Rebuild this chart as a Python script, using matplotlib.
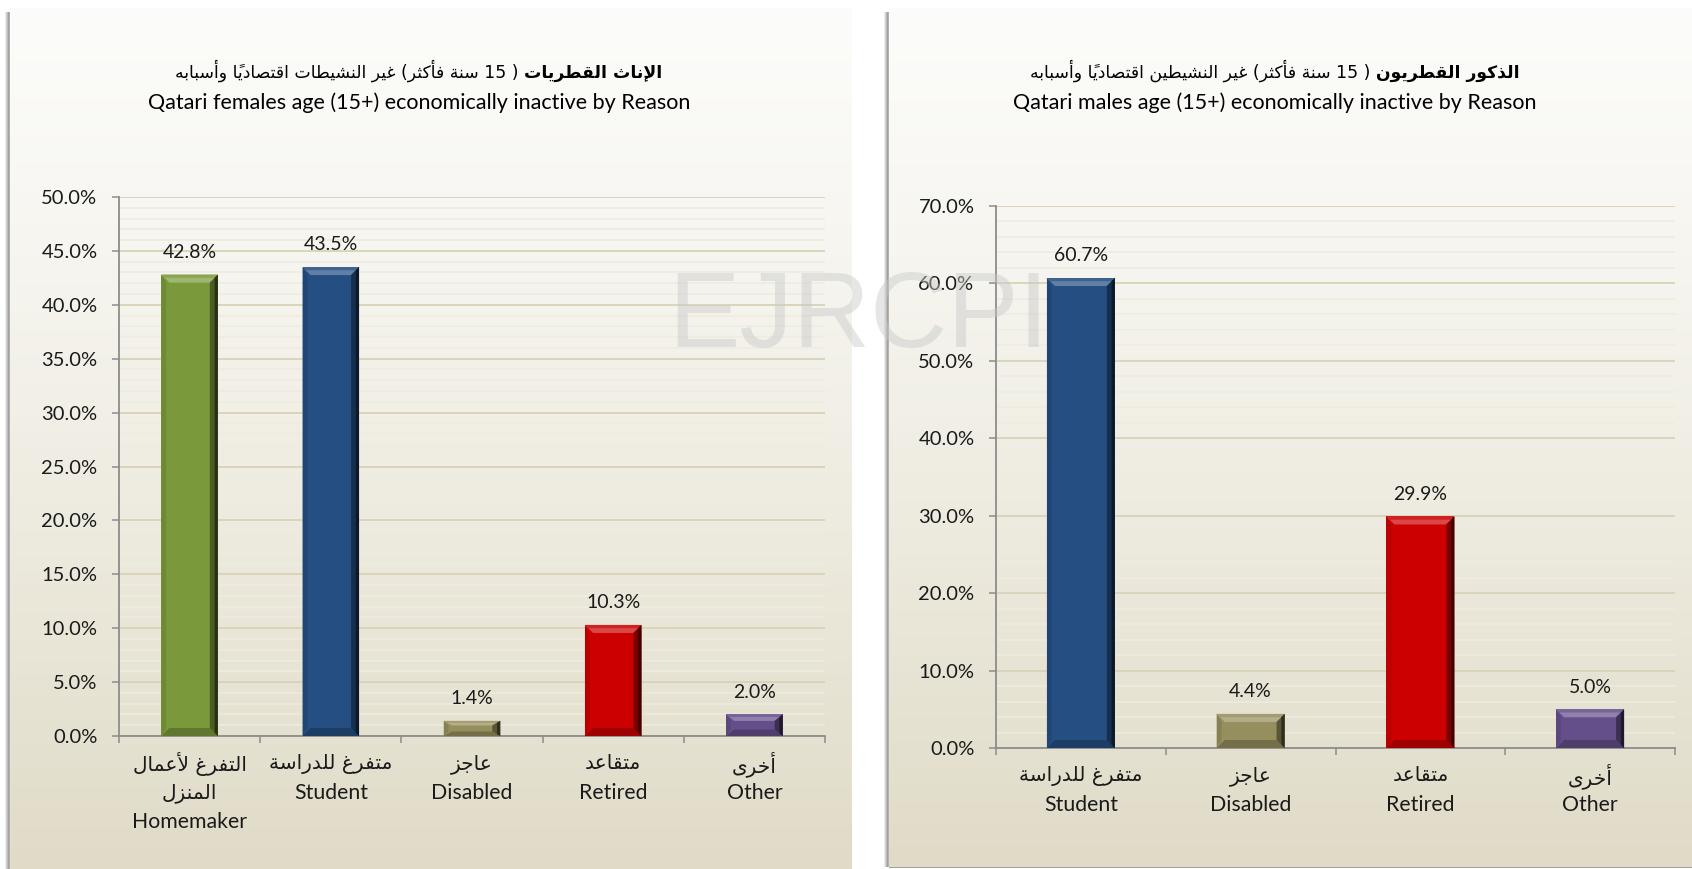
import numpy as np
import matplotlib
matplotlib.use('Agg')
import matplotlib.pyplot as plt
from matplotlib.patches import Polygon, Rectangle
from matplotlib.offsetbox import TextArea, HPacker, AnnotationBbox
import matplotlib.colors as mcolors

# ---------------- data ----------------
f_cats_ar = [["التفرغ لأعمال", "المنزل"], ["متفرغ للدراسة"], ["عاجز"], ["متقاعد"], ["أخرى"]]
f_cats_en = ["Homemaker", "Student", "Disabled", "Retired", "Other"]
f_values = [42.8, 43.5, 1.4, 10.3, 2.0]
f_ticks = [0, 5, 10, 15, 20, 25, 30, 35, 40, 45, 50]

m_cats_ar = [["متفرغ للدراسة"], ["عاجز"], ["متقاعد"], ["أخرى"]]
m_cats_en = ["Student", "Disabled", "Retired", "Other"]
m_values = [60.7, 4.4, 29.9, 5.0]
m_ticks = [0, 10, 20, 30, 40, 50, 60, 70]

f_title_bold = "الإناث القطريات"
f_title_rest = "( 15 سنة فأكثر) غير النشيطات اقتصادياً وأسبابه"
f_title_en = "Qatari females age (15+) economically inactive by Reason"
m_title_bold = "الذكور القطريون"
m_title_rest = "( 15 سنة فأكثر) غير النشيطين اقتصادياً وأسبابه"
m_title_en = "Qatari males age (15+) economically inactive by Reason"
watermark = "EJRCPI"

GREEN, BLUE, OLIVE, RED, PURPLE = '#7a993b', '#254e82', '#958e5d', '#cc0000', '#654f8a'
f_colors = [GREEN, BLUE, OLIVE, RED, PURPLE]
m_colors = [BLUE, OLIVE, RED, PURPLE]

# ---------------- simple Arabic shaping (presentation forms + RTL order) ----------------
_R = {'\u0622': 0xFE81, '\u0623': 0xFE83, '\u0625': 0xFE87, '\u0627': 0xFE8D, '\u0629': 0xFE93,
      '\u062F': 0xFEA9, '\u0630': 0xFEAB, '\u0631': 0xFEAD, '\u0632': 0xFEAF, '\u0648': 0xFEED,
      '\u0649': 0xFEEF}
_D = {'\u0628': 0xFE8F, '\u062A': 0xFE95, '\u062B': 0xFE99, '\u062C': 0xFE9D, '\u062D': 0xFEA1,
      '\u062E': 0xFEA5, '\u0633': 0xFEB1, '\u0634': 0xFEB5, '\u0635': 0xFEB9, '\u0636': 0xFEBD,
      '\u0637': 0xFEC1, '\u0638': 0xFEC5, '\u0639': 0xFEC9, '\u063A': 0xFECD, '\u0641': 0xFED1,
      '\u0642': 0xFED5, '\u0643': 0xFED9, '\u0644': 0xFEDD, '\u0645': 0xFEE1, '\u0646': 0xFEE5,
      '\u0647': 0xFEE9, '\u064A': 0xFEF1}
FORMS = {k: (v, v + 1) for k, v in _R.items()}
FORMS.update({k: (v, v + 1, v + 2, v + 3) for k, v in _D.items()})
LAM_ALEF = {'\u0622': (0xFEF5, 0xFEF6), '\u0623': (0xFEF7, 0xFEF8),
            '\u0625': (0xFEF9, 0xFEFA), '\u0627': (0xFEFB, 0xFEFC)}
MIRROR = {'(': ')', ')': '('}


def _is_mark(c):
    return '\u064B' <= c <= '\u0652'


def shape_word(w):
    if not any(c in FORMS for c in w):
        return ''.join(MIRROR.get(c, c) for c in w) if all(c in '()' for c in w) else w
    units = []
    i = 0
    while i < len(w):
        c = w[i]
        if _is_mark(c):
            if units:
                units[-1][1].append(c)
            i += 1
            continue
        if c == '\u0644' and i + 1 < len(w) and w[i + 1] in LAM_ALEF:
            units.append([('LA', w[i + 1]), []])
            i += 2
            continue
        units.append([c, []])
        i += 1
    out = []
    for j, (k, marks) in enumerate(units):
        prev = units[j - 1][0] if j > 0 else None
        nxt = units[j + 1][0] if j + 1 < len(units) else None
        prev_joins = (prev is not None and not isinstance(prev, tuple)
                      and prev in FORMS and len(FORMS[prev]) == 4)
        next_letter = nxt is not None and (isinstance(nxt, tuple) or nxt in FORMS)
        if isinstance(k, tuple):
            f = LAM_ALEF[k[1]]
            g = chr(f[1] if prev_joins else f[0])
        elif k in FORMS:
            f = FORMS[k]
            if len(f) == 4:
                if prev_joins and next_letter:
                    g = f[3]
                elif prev_joins:
                    g = f[1]
                elif next_letter:
                    g = f[2]
                else:
                    g = f[0]
            else:
                g = f[1] if prev_joins else f[0]
            g = chr(g)
        else:
            g = MIRROR.get(k, k)
        out.append(g + ''.join(marks))
    return ''.join(reversed(out))


def visual(line):
    toks = [shape_word(t) for t in line.split(' ')]
    return ' '.join(reversed(toks))


# ---------------- figure ----------------
W, H = 1692, 869
fig = plt.figure(figsize=(W / 100, H / 100), dpi=100, facecolor='white')
LAT = ['Lato', 'DejaVu Sans']
AR = ['DejaVu Sans']
TXT = '#1a1a1a'


def panel_bg(x0, y0, x1, y1):
    ax = fig.add_axes([x0 / W, 1 - y1 / H, (x1 - x0) / W, (y1 - y0) / H], zorder=-10)
    top = np.array([252, 252, 250]) / 255
    bot = np.array([224, 219, 199]) / 255
    t = np.linspace(0, 1, 400)[:, None]
    grad = top + (bot - top) * (t ** 1.25)
    ax.imshow(grad[:, None, :], aspect='auto', extent=(0, 1, 0, 1), interpolation='bilinear')
    ax.set_axis_off()
    # left shadow
    for k, a in enumerate([0.12, 0.25, 0.40, 0.55, 0.45]):
        fig.patches.append(Rectangle(((x0 - 5 + k) / W, 1 - y1 / H), 1 / W, (y1 - y0 - 4) / H,
                                     transform=fig.transFigure, color='#555555', alpha=a,
                                     lw=0, zorder=-9))


panel_bg(10, 8, 852, 870)
panel_bg(889, 8, 1692, 867)
fig.patches.append(Rectangle((889 / W, 1 - 868 / H), (W - 889) / W, 1.5 / H,
                             transform=fig.transFigure, color='#a0a0a0', lw=0, zorder=-8))


def mix(c, other, a):
    c = np.array(mcolors.to_rgb(c))
    o = np.array(mcolors.to_rgb(other))
    return tuple(c * (1 - a) + o * a)


def make_chart(rect, cats_ar, cats_en, values, colors, ticks, minor_step):
    ax = fig.add_axes(rect)
    ax.set_facecolor('none')
    x = np.arange(len(values))
    ax.set_xlim(-0.5, len(values) - 0.5)
    ax.set_ylim(ticks[0], ticks[-1])
    bars = ax.bar(x, values, width=0.40, color=colors, zorder=3, linewidth=0)
    # bevel
    p0 = ax.transData.transform((0, 0))
    p1 = ax.transData.transform((1, 1))
    sx, sy = p1[0] - p0[0], p1[1] - p0[1]
    for b, c in zip(bars, colors):
        x0, w, h = b.get_x(), b.get_width(), b.get_height()
        x1 = x0 + w
        bx = 8.0 / sx
        by = min(8.0 / sy, h * 0.3)
        polys = [
            ([(x0, h), (x1, h), (x1 - bx, h - by), (x0 + bx, h - by)], mix(c, 'white', 0.28)),
            ([(x0, h), (x1, h), (x1 - bx * 0.4, h - by * 0.4), (x0 + bx * 0.4, h - by * 0.4)], mix(c, 'white', 0.12)),
            ([(x0, 0), (x1, 0), (x1 - bx, by), (x0 + bx, by)], mix(c, 'black', 0.22)),
            ([(x0, 0), (x0, h), (x0 + bx * 0.6, h - by), (x0 + bx * 0.6, by)], mix(c, 'black', 0.10)),
            ([(x1, 0), (x1, h), (x1 - bx, h - by), (x1 - bx, by)], mix(c, 'black', 0.40)),
            ([(x1, 0), (x1, h), (x1 - bx * 0.4, h - by * 0.4), (x1 - bx * 0.4, by * 0.4)], mix(c, 'black', 0.68)),
        ]
        for pts, col in polys:
            ax.add_patch(Polygon(pts, closed=True, facecolor=col, edgecolor='none', zorder=4))
        ax.annotate(f"{b.get_height():.1f}%", (b.get_x() + w / 2, h), xytext=(0, 16),
                    textcoords='offset points', ha='center', va='center',
                    fontsize=14, family=LAT, color=TXT)
    # axes styling
    for s in ['top', 'right']:
        ax.spines[s].set_visible(False)
    for s in ['left', 'bottom']:
        ax.spines[s].set_color('#8c8c8c')
        ax.spines[s].set_linewidth(1.3)
    ax.set_yticks(ticks, [f"{t:.1f}%" for t in ticks], family=LAT, fontsize=14.5, color=TXT)
    ax.set_yticks(np.arange(ticks[0], ticks[-1] + 1e-9, minor_step), minor=True)
    ax.tick_params(axis='y', which='major', length=5, width=1.1, color='#8c8c8c', pad=10.5)
    ax.tick_params(axis='y', which='minor', length=0)
    ax.set_xticks(x, [''] * len(x))
    ax.set_xticks(np.arange(len(values) + 1) - 0.5, minor=True)
    ax.tick_params(axis='x', which='major', length=0)
    ax.tick_params(axis='x', which='minor', length=5, width=1.1, color='#8c8c8c')
    # category labels: Arabic lines then English line
    for xi, ar, en in zip(x, cats_ar, cats_en):
        lines = [(visual(a), AR, 14.5) for a in ar] + [(en, LAT, 15.3)]
        for k, (txt, fam, fs) in enumerate(lines):
            ax.annotate(txt, (xi, 0), xycoords=ax.get_xaxis_transform(),
                        xytext=(0, -(20.0 + 20.9 * k)), textcoords='offset points',
                        ha='center', va='center', family=fam, fontsize=fs, color=TXT)
    ax.yaxis.grid(True, which='minor', color='#eeebe0', lw=1.1, zorder=0)
    ax.yaxis.grid(True, which='major', color='#d9d2b7', lw=1.3, zorder=1)
    ax.set_axisbelow(True)
    return ax


make_chart([119 / W, 1 - 736 / H, 706 / W, 539 / H], f_cats_ar, f_cats_en, f_values,
           f_colors, f_ticks, 1)
make_chart([996 / W, 1 - 748 / H, 679 / W, 542 / H], m_cats_ar, m_cats_en, m_values,
           m_colors, m_ticks, 2)


def title(cx, bold, rest, en):
    pk = HPacker(children=[TextArea(visual(rest), textprops=dict(family=AR, size=12.4, color='black')),
                           TextArea(visual(bold), textprops=dict(family=AR, size=12.4, color='black',
                                                                 weight='bold'))],
                 sep=4, pad=0, align='baseline')
    ab = AnnotationBbox(pk, (cx / W, 1 - 71 / H), xycoords='figure fraction', frameon=False,
                        box_alignment=(0.5, 0.5), pad=0)
    fig.add_artist(ab)
    fig.text(cx / W, 1 - 102.5 / H, en, ha='center', va='center', family=LAT, fontsize=15.5,
             color='black')


title(419, f_title_bold, f_title_rest, f_title_en)
title(1275, m_title_bold, m_title_rest, m_title_en)

fig.text(858 / W, 1 - 347 / H, watermark, ha='center', va='baseline', fontsize=77,
         family=['Liberation Sans', 'DejaVu Sans'], color='#c8c8c8', alpha=0.45, zorder=50)

fig.savefig('out.png', dpi=100, facecolor='white')
